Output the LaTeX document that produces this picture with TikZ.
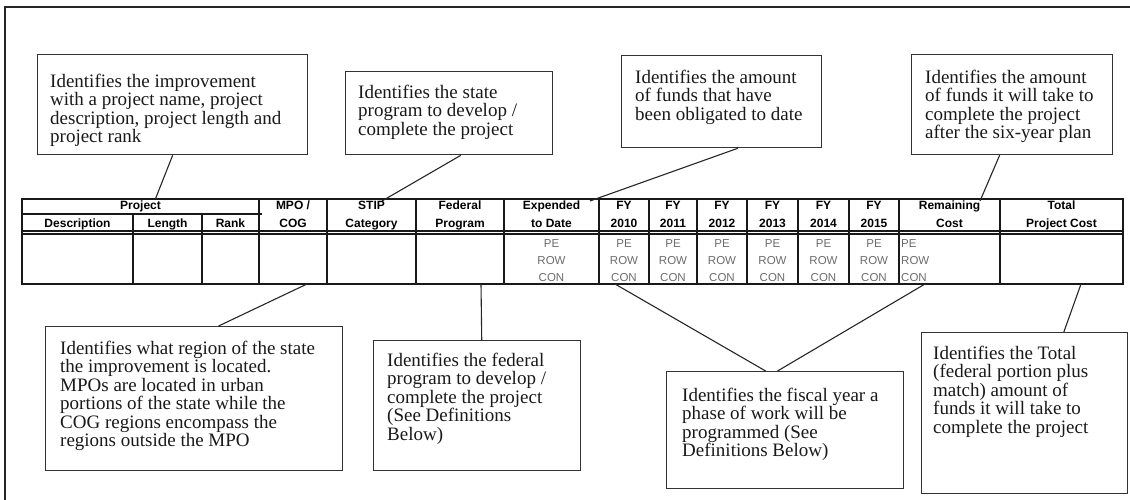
\documentclass[tikz,border=0pt]{standalone}
\usepackage{fontspec}
\setmainfont{Liberation Serif}
\newfontfamily\tabfont{Liberation Sans}
\usetikzlibrary{calc}
\begin{document}
\begin{tikzpicture}[x=1pt,y=-1pt,
  frameline/.style={draw=black!85,line width=1.3pt},
  cbox/.style={draw=black!80,line width=1.3pt,inner sep=0pt,anchor=north west},
  ctext/.style={anchor=north west,inner sep=0pt,align=left,text=black!90,font=\fontsize{19}{18.4}\selectfont},
  tline/.style={draw=black!90,line width=1.2pt},
  hd/.style={inner sep=0pt,anchor=base,font=\tabfont\bfseries\fontsize{12}{13}\selectfont},
  bd/.style={inner sep=0pt,anchor=base,text=black!58,font=\tabfont\fontsize{11.5}{13}\selectfont},
  link/.style={draw=black!85,line width=1.1pt}]
\useasboundingbox (0,0) rectangle (1130,500);
\draw[frameline] (1130,7) -- (5,7) -- (5,500);

% ---------- table ----------
\draw[tline] (22,199) rectangle (1123,284);
\draw[tline] (22,214) -- (262,214);
\draw[tline] (22,231) -- (1123,231);
\draw[tline] (22,234) -- (1123,234);
\foreach \x in {133,202} \draw[tline] (\x,214) -- (\x,284);
\foreach \x in {259,327,416,504,599,649,697,747,798,849,899,1000} \draw[tline] (\x,199) -- (\x,284);

% headers
\node[hd] (hproj) at (140.5,209.5) {Project};
\node[hd] (hdesc) at (77.5,227) {Description};
\node[hd] (hlen) at (167.5,227) {Length};
\node[hd] (hrank) at (230.5,227) {Rank};
\foreach \x/\a/\b [count=\i] in {293/{MPO /}/COG,371.5/STIP/Category,460/Federal/Program,551.5/Expended/to Date,624/FY/2010,673/FY/2011,722/FY/2012,772.5/FY/2013,823.5/FY/2014,874/FY/2015,949.5/Remaining/Cost,1061.5/Total/Project Cost}{
  \node[hd] (ha\i) at (\x,209.5) {\a};
  \node[hd] (hb\i) at (\x,227) {\b};
}
% body
\foreach \x [count=\i] in {551.5,624,673,722,772.5,823.5,874}{
  \node[bd] (pe\i) at (\x,247) {PE};
  \node[bd] (row\i) at (\x,264) {ROW};
  \node[bd] (con\i) at (\x,281) {CON};
}
\node[bd,anchor=base west] (per) at (901,247) {PE};
\node[bd,anchor=base west] (rowr) at (901,264) {ROW};
\node[bd,anchor=base west] (conr) at (901,281) {CON};

% ---------- callout boxes ----------
\node[cbox,minimum width=270,minimum height=100] (b1) at (37,54) {};
\node[ctext] (t1) at (50,74) {Identifies the improvement\\with a project name, project\\description, project length and\\project rank};

\node[cbox,minimum width=207,minimum height=83] (b2) at (345,71) {};
\node[ctext] (t2) at (358,85) {Identifies the state\\program to develop /\\complete the project};

\node[cbox,minimum width=200,minimum height=92] (b3) at (621,55) {};
\node[ctext] (t3) at (635,70) {Identifies the amount\\of funds that have\\been obligated to date};

\node[cbox,minimum width=201,minimum height=100] (b4) at (911,54) {};
\node[ctext] (t4) at (925,70) {Identifies the amount\\of funds it will take to\\complete the project\\after the six-year plan};

\node[cbox,minimum width=297,minimum height=144] (b5) at (45,326) {};
\node[ctext] (t5) at (60,341) {Identifies what region of the state\\the improvement is located.\\MPOs are located in urban\\portions of the state while the\\COG regions encompass the\\regions outside the MPO};

\node[cbox,minimum width=207,minimum height=130] (b6) at (373,340) {};
\node[ctext] (t6) at (387,353) {Identifies the federal\\program to develop /\\complete the project\\(See Definitions\\Below)};

\node[cbox,minimum width=237,minimum height=117] (b7) at (666,371) {};
\node[ctext] (t7) at (682,388) {Identifies the fiscal year a\\phase of work will be\\programmed (See\\Definitions Below)};

\node[cbox,minimum width=206,minimum height=161] (b8) at (921,332) {};
\node[ctext] (t8) at (933,346) {Identifies the Total\\(federal portion plus\\match) amount of\\funds it will take to\\complete the project};

% ---------- connector targets ----------
\coordinate (a1) at (155,200);
\coordinate (a2) at (382,201);
\coordinate (a3) at (590,201);
\coordinate (a4) at (980,201);
\coordinate (a5) at (307,284);
\coordinate (a6) at (481,284);
\coordinate (a7) at (615,284);
\coordinate (a8) at (925,284);
\coordinate (a9) at (1081,284);

\draw[link] (b1.south) -- (a1);
\draw[link] ($(b2.south west)!0.556!(b2.south east)$) -- (a2);
\draw[link] ($(b3.south west)!0.58!(b3.south east)$) -- (a3);
\draw[link] ($(b4.south west)!0.438!(b4.south east)$) -- (a4);
\draw[link] ($(b5.north west)!0.582!(b5.north east)$) -- (a5);
\draw[link] ($(b6.north west)!0.522!(b6.north east)$) -- (a6);
\draw[link] ($(b7.north west)!0.418!(b7.north east)$) -- (a7);
\draw[link] ($(b7.north west)!0.468!(b7.north east)$) -- (a8);
\draw[link] ($(b8.north west)!0.689!(b8.north east)$) -- (a9);
\end{tikzpicture}
\end{document}
